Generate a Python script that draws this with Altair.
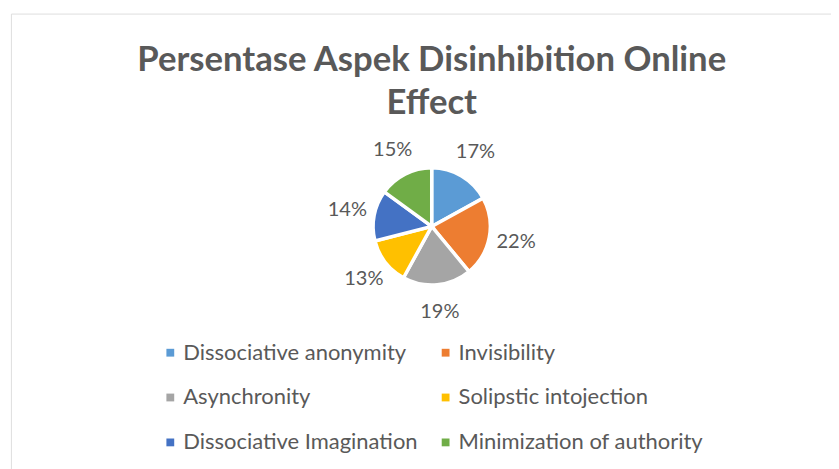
import altair as alt
import pandas as pd

categories = ["Dissociative anonymity", "Invisibility", "Asynchronity",
              "Solipstic intojection", "Dissociative Imagination", "Minimization of authority"]
values = [17, 22, 19, 13, 14, 15]
colors = ["#5B9BD5", "#ED7D31", "#A5A5A5", "#FFC000", "#4472C4", "#70AD47"]
title_lines = ["Persentase Aspek Disinhibition Online", "Effect"]

df = pd.DataFrame({"cat": categories, "val": values, "idx": list(range(len(values)))})
df["lbl"] = [f"{v}%" for v in values]
tdf = pd.DataFrame({"line": title_lines, "i": list(range(len(title_lines)))})

FONT = "Lato"
TXT = "#595959"
CX, CY, R = 431, 218, 60

base = alt.Chart(df).encode(
    theta=alt.Theta("val:Q", stack=True),
    order=alt.Order("idx:Q"),
)

pie = base.mark_arc(stroke="white", strokeWidth=3.5).encode(
    x=alt.value(CX), y=alt.value(CY), radius=alt.value(R),
    color=alt.Color("cat:N", sort=categories,
                    scale=alt.Scale(domain=categories, range=colors),
                    legend=alt.Legend(title=None, orient="none", legendX=152, legendY=336,
                                      columns=2, direction="horizontal",
                                      symbolType="square", symbolSize=64,
                                      symbolStrokeWidth=0, labelFont=FONT, labelFontSize=22.5,
                                      labelColor=TXT, labelOffset=2, rowPadding=23,
                                      columnPadding=17, labelLimit=400)),
)

labels = base.mark_text(font=FONT, fontSize=20.5, color=TXT).encode(
    x=alt.value(CX), y=alt.value(CY), radius=alt.value(88), text="lbl:N",
)

title = alt.Chart(tdf).mark_text(font=FONT, fontSize=35.5, fontWeight="bold", color=TXT,
                                 baseline="middle").encode(
    x=alt.value(CX),
    y=alt.Y("i:Q", scale=alt.Scale(domain=[0, 1], range=[48, 92]), axis=None),
    text="line:N",
)

chart = alt.layer(pie, labels, title).properties(
    width=840, height=470,
    autosize=alt.AutoSizeParams(type="none"),
    padding={"left": 3, "top": 0, "right": 0, "bottom": 0},
).configure_view(stroke="#D9D9D9", strokeWidth=2).configure(background="white")

chart.save("out.html", embed_options={"renderer": "svg", "actions": False})
